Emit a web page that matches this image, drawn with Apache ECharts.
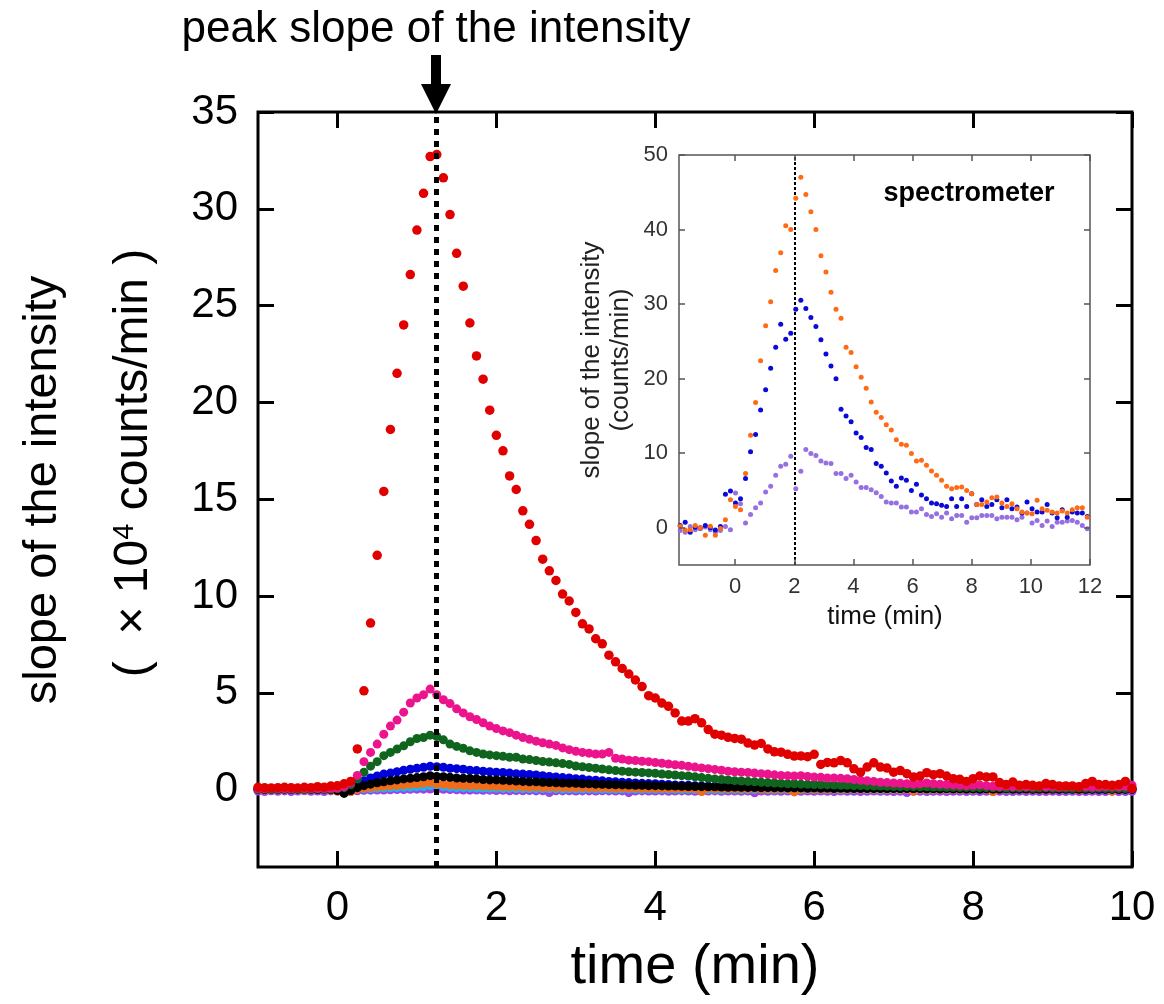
<!DOCTYPE html>
<html><head><meta charset="utf-8">
<script src="https://cdn.jsdelivr.net/npm/echarts@6/dist/echarts.min.js"></script>
<style>html,body{margin:0;padding:0;background:#fff}#c{width:1164px;height:1004px}</style>
</head><body><div id="c"></div>
<script>
// ---------- main chart data (sampled every 5 s from -1 min) ----------
const MAIN_T_START = -1, MAIN_T_STEP = 1 / 12;
const RED = [
0.12,0.1,0.08,0.1,0.12,0.1,0.08,0.12,0.1,0.15,
0.12,0.18,0.2,0.3,0.42,2.1,5.1,8.6,12.1,15.4,
18.6,21.5,24.0,26.6,28.9,30.8,32.7,32.8,31.6,29.7,
27.7,26.0,24.1,22.4,21.2,19.6,18.3,17.5,16.2,15.5,
14.4,13.7,12.86,11.9,11.3,10.8,10.1,9.74,9.15,8.56,
8.3,7.79,7.53,6.94,6.6,6.26,5.97,5.66,5.32,4.85,
4.73,4.47,4.3,3.96,3.54,3.54,3.66,3.45,3.1,2.86,
2.81,2.7,2.64,2.6,2.4,2.3,2.38,2.1,1.95,1.93,
1.82,1.73,1.74,1.7,1.82,1.3,1.4,1.38,1.5,1.38,
1.07,0.9,1.16,1.38,1.16,1.11,0.9,0.98,0.82,0.65,
0.7,0.87,0.77,0.82,0.7,0.56,0.53,0.42,0.56,0.7,
0.65,0.65,0.36,0.26,0.39,0.22,0.26,0.22,0.19,0.31,
0.26,0.19,0.19,0.19,0.14,0.31,0.42,0.26,0.26,0.22,
0.26,0.42,0.05];
const PINK = [
0.05,0.04,0.06,0.05,0.05,0.04,0.06,0.05,0.05,0.06,
0.05,0.06,0.08,0.15,0.35,0.73,1.44,1.92,2.35,2.86,
3.28,3.59,4.0,4.47,4.73,4.9,5.19,4.9,4.64,4.44,
4.17,3.96,3.76,3.62,3.45,3.28,3.15,3.03,2.94,2.81,
2.69,2.6,2.5,2.42,2.35,2.28,2.15,2.06,1.98,1.92,
1.88,1.84,1.84,1.92,1.62,1.58,1.52,1.5,1.46,1.44,
1.4,1.36,1.32,1.28,1.25,1.2,1.16,1.12,1.08,1.04,
1.0,0.95,0.92,0.9,0.88,0.85,0.82,0.8,0.76,0.73,
0.72,0.7,0.72,0.68,0.65,0.63,0.6,0.6,0.58,0.56,
0.52,0.48,0.45,0.42,0.38,0.36,0.34,0.32,0.3,0.28,
0.3,0.34,0.3,0.27,0.26,0.24,0.22,0.2,0.22,0.24,
0.2,0.17,0.16,0.18,0.15,0.16,0.14,0.15,0.17,0.14,
0.15,0.13,0.14,0.16,0.14,0.15,0.13,0.14,0.16,0.15,
0.14,0.17,0.22];
const GREEN = [
0.02,0.03,0.0,0.02,0.03,0.01,0.02,0.0,0.03,0.02,
0.01,0.03,0.05,0.1,0.25,0.55,0.9,1.21,1.44,1.75,
1.92,2.09,2.26,2.47,2.64,2.69,2.81,2.74,2.57,2.35,
2.23,2.13,2.0,1.92,1.84,1.79,1.75,1.72,1.67,1.67,
1.58,1.55,1.5,1.45,1.42,1.38,1.34,1.3,1.22,1.18,
1.14,1.1,1.06,1.02,0.98,0.95,0.92,0.9,0.88,0.86,
0.84,0.8,0.78,0.75,0.72,0.7,0.66,0.62,0.58,0.55,
0.52,0.5,0.46,0.44,0.42,0.4,0.38,0.36,0.34,0.32,
0.3,0.3,0.28,0.27,0.26,0.25,0.24,0.23,0.22,0.22,
0.2,0.2,0.19,0.18,0.18,0.17,0.16,0.16,0.15,0.15,
0.14,0.14,0.13,0.13,0.12,0.12,0.11,0.11,0.1,0.1,
0.1,0.09,0.1,0.08,0.09,0.08,0.1,0.07,0.08,0.09,
0.07,0.08,0.07,0.06,0.08,0.07,0.06,0.07,0.06,0.05,
0.06,0.05,0.06];
const BLUE = [
0.03,0.05,0.02,0.04,0.03,0.05,0.02,0.03,0.04,0.02,
0.03,0.02,0.01,0.0,0.1,0.25,0.45,0.6,0.7,0.8,
0.85,0.92,1.0,1.05,1.1,1.15,1.2,1.18,1.15,1.1,
1.08,1.05,1.0,0.98,0.95,0.92,0.9,0.88,0.85,0.82,
0.8,0.78,0.75,0.72,0.68,0.65,0.62,0.6,0.56,0.54,
0.5,0.48,0.45,0.42,0.4,0.38,0.36,0.34,0.32,0.31,
0.3,0.28,0.26,0.24,0.22,0.22,0.2,0.19,0.18,0.17,
0.16,0.15,0.14,0.14,0.13,0.12,0.12,0.11,0.1,0.1,
0.09,0.09,0.1,0.08,0.09,0.08,0.09,0.07,0.08,0.08,
0.07,0.07,0.06,0.07,0.06,0.06,0.07,0.05,0.06,0.05,
0.06,0.05,0.05,0.04,0.05,0.04,0.05,0.04,0.04,0.03,
0.04,0.04,0.03,0.04,0.03,0.03,0.04,0.02,0.03,0.03,
0.02,0.03,0.02,0.02,0.03,0.02,0.02,0.01,0.02,0.02,
0.01,0.02,0.01];
const BLACK = [
0.02,0.0,0.03,0.01,0.02,0.0,0.02,0.03,0.01,0.0,
0.02,0.0,-0.05,-0.2,-0.05,0.1,0.2,0.28,0.35,0.4,
0.45,0.5,0.55,0.58,0.62,0.66,0.72,0.68,0.66,0.63,
0.6,0.58,0.57,0.55,0.52,0.5,0.5,0.48,0.46,0.44,
0.42,0.4,0.4,0.38,0.36,0.35,0.34,0.33,0.32,0.3,
0.3,0.28,0.27,0.26,0.25,0.24,0.23,0.22,0.22,0.2,
0.2,0.19,0.18,0.18,0.17,0.16,0.16,0.15,0.14,0.14,
0.13,0.12,0.13,0.12,0.11,0.12,0.1,0.11,0.1,0.1,
0.09,0.1,0.09,0.08,0.09,0.08,0.08,0.07,0.08,0.07,
0.07,0.06,0.07,0.06,0.06,0.05,0.06,0.05,0.06,0.05,
0.05,0.04,0.05,0.04,0.05,0.04,0.04,0.03,0.04,0.03,
0.04,0.03,0.03,0.04,0.03,0.02,0.03,0.02,0.03,0.02,
0.03,0.02,0.02,0.03,0.02,0.01,0.02,0.02,0.01,0.02,
0.01,0.01,0.02];
const ORANGE = [
0.0,-0.02,0.01,0.0,-0.01,0.02,0.0,-0.02,0.01,0.0,
0.01,-0.03,-0.08,-0.15,-0.1,0.02,0.08,0.12,0.14,0.17,
0.2,0.22,0.24,0.27,0.3,0.33,0.36,0.3,0.28,0.25,
0.23,0.22,0.2,0.2,0.19,0.18,0.17,0.16,0.16,0.15,
0.14,0.13,0.14,0.12,0.13,0.12,0.11,0.12,0.1,0.11,
0.1,0.1,0.09,0.1,0.08,0.09,0.08,0.09,0.07,0.08,
0.07,0.07,0.06,0.07,0.06,0.06,0.05,-0.1,0.06,0.05,
0.05,0.04,0.05,0.04,0.04,0.05,0.03,0.04,0.03,0.04,
0.03,-0.12,0.03,0.03,0.02,0.03,0.02,0.03,0.02,0.02,
0.03,0.02,0.02,0.01,0.02,0.01,0.02,0.01,0.01,-0.08,
0.01,0.0,0.01,0.0,0.01,0.0,0.01,0.0,0.0,0.01,
0.0,-0.1,0.0,0.01,0.0,0.0,0.01,0.0,0.0,-0.01,
0.0,0.0,0.01,0.0,-0.01,0.0,0.0,0.01,0.0,-0.08,
0.0,0.0,0.02];
const CYAN = [
0.0,0.01,-0.01,0.0,0.01,0.0,-0.01,0.0,0.0,0.01,
0.0,-0.01,0.0,-0.02,0.0,0.02,0.04,0.05,0.07,0.08,
0.09,0.1,0.11,0.12,0.14,0.16,0.2,0.22,0.15,0.12,
0.1,0.1,0.09,0.08,0.08,0.07,0.07,0.06,0.06,0.05,
0.05,0.05,0.04,0.05,0.04,0.04,0.03,0.04,0.03,0.03,
0.04,0.03,0.02,0.03,0.02,0.03,0.02,0.02,0.01,0.02,
0.01,0.02,0.01,0.01,0.0,0.01,0.0,0.01,0.0,0.0,
-0.01,0.0,0.0,-0.01,0.0,0.0,0.01,0.0,-0.01,0.0,
0.0,0.0,-0.01,0.0,0.0,0.01,0.0,0.0,-0.01,0.0,
0.0,0.01,0.0,0.0,-0.01,0.0,0.0,0.0,0.01,0.0,
0.0,-0.01,0.0,0.0,0.0,0.01,0.0,0.0,-0.01,0.0,
0.0,0.0,0.01,0.0,0.0,-0.01,0.0,0.0,0.0,0.01,
0.0,0.0,-0.01,0.0,0.0,0.0,0.01,0.0,0.0,-0.01,
0.0,0.0,0.0];
const PURPLE = [
-0.08,-0.1,-0.06,-0.09,-0.07,-0.1,-0.08,-0.06,-0.09,-0.08,
-0.1,-0.07,-0.08,-0.12,-0.1,-0.06,-0.04,-0.03,-0.02,-0.02,
-0.01,0.0,0.0,0.01,0.02,0.02,0.03,0.02,0.01,0.0,
-0.01,-0.02,-0.03,-0.02,-0.04,-0.03,-0.05,-0.04,-0.06,-0.05,
-0.06,-0.05,-0.07,-0.06,-0.15,-0.06,-0.07,-0.06,-0.08,-0.07,
-0.07,-0.08,-0.06,-0.07,-0.08,-0.07,-0.16,-0.08,-0.07,-0.08,
-0.08,-0.07,-0.09,-0.08,-0.07,-0.08,-0.09,-0.08,-0.08,-0.07,
-0.09,-0.08,-0.08,-0.09,-0.08,-0.17,-0.08,-0.09,-0.08,-0.09,
-0.08,-0.09,-0.09,-0.08,-0.09,-0.08,-0.09,-0.1,-0.08,-0.09,
-0.09,-0.1,-0.09,-0.08,-0.09,-0.09,-0.1,-0.09,-0.15,-0.09,
-0.09,-0.1,-0.09,-0.09,-0.1,-0.09,-0.09,-0.1,-0.09,-0.1,
-0.09,-0.1,-0.09,-0.1,-0.1,-0.09,-0.1,-0.09,-0.1,-0.1,
-0.09,-0.1,-0.1,-0.09,-0.1,-0.1,-0.09,-0.1,-0.1,-0.09,
-0.1,-0.1,-0.09];

// ---------- inset (spectrometer) data, every ~10 s ----------
const INSET_T_START = -1.86, INSET_T_STEP = 0.17;
const SPEC_ORANGE = [
0.2,-0.3,-0.27,0.3,0.0,-1.0,0.2,-1.0,-0.1,1.07,
3.76,2.86,2.42,7.26,12.4,16.8,22.4,27.1,30.3,34.5,
36.9,40.5,40.0,44.2,47.0,44.7,42.4,40.0,36.5,34.3,
31.6,29.3,28.1,24.2,23.5,21.6,20.2,18.7,16.85,15.5,
14.8,13.8,13.1,11.8,11.2,11.06,9.95,8.95,9.05,8.37,
7.6,7.03,6.36,5.55,5.24,5.38,5.46,5.01,4.57,3.13,
3.13,3.44,4.03,4.11,3.31,2.86,3.23,2.55,2.1,1.96,
1.88,3.67,2.55,2.33,2.1,1.96,2.23,1.96,2.42,2.69,
2.69,1.42];
const SPEC_BLUE = [
0.3,0.75,-0.59,0.08,0.0,0.31,0.0,-0.3,0.17,4.48,
4.92,3.31,3.9,6.59,10.2,12.5,15.8,18.5,21.4,24.2,
27.3,25.3,26.1,29.3,30.5,29.4,28.2,27.0,25.2,23.3,
21.7,20.0,15.9,15.0,14.2,12.7,12.1,10.75,10.5,8.6,
8.24,7.34,6.26,5.55,6.67,6.36,5.0,5.82,4.4,3.9,
3.31,3.23,3.0,2.86,3.9,2.86,3.9,2.86,4.57,3.13,
3.76,2.86,3.13,3.76,2.69,3.76,2.55,2.77,1.96,3.44,
2.55,2.1,2.1,3.13,1.96,1.34,2.42,1.42,2.1,1.96,
1.96,1.52];
const SPEC_PURPLE = [
-0.36,-0.59,0.17,-0.27,-0.13,0.1,-0.27,-0.59,-0.36,0.17,
-0.27,4.65,3.23,0.62,1.79,2.69,3.31,4.78,5.55,7.03,
8.24,8.5,9.58,5.24,7.57,10.5,9.95,9.7,8.95,8.68,
8.6,7.26,7.26,6.59,7.03,6.13,5.38,5.38,5.1,4.7,
4.2,3.44,3.31,3.31,2.77,2.77,2.1,2.1,2.55,1.79,
1.52,1.88,1.42,1.96,1.21,1.65,1.65,0.75,1.34,1.34,
1.65,1.65,1.65,1.21,1.42,1.42,1.42,1.08,1.42,1.96,
0.62,0.98,0.31,0.89,0.17,0.75,0.75,0.89,0.98,0.75,
0.31,-0.13];

const PEAK_TIME = 1.24;
const INSET_PEAK_TIME = 2;
const MAIN_X_TICKS = [0, 2, 4, 6, 8, 10];
const MAIN_Y_TICKS = [0, 5, 10, 15, 20, 25, 30, 35];
const INSET_X_TICKS = [0, 2, 4, 6, 8, 10, 12];
const INSET_Y_TICKS = [0, 10, 20, 30, 40, 50];

// ---------- build ----------
const FONT = '"Liberation Sans", Arial, Helvetica, sans-serif';
function pairs(vals, t0, dt) { return vals.map((v, i) => [+(t0 + i * dt).toFixed(4), v]); }

function axis(grid, pos, min, max, ticks, showLabel, o) {
  return {
    type: 'value', gridIndex: grid, position: pos, min: min, max: max,
    axisLine: { show: false, onZero: false }, splitLine: { show: false },
    axisTick: { show: true, inside: true, length: o.tickLen, customValues: ticks,
      lineStyle: { color: o.tickColor, width: o.tickWidth } },
    axisLabel: { show: showLabel, customValues: ticks, fontSize: o.fontSize, color: o.labelColor,
      margin: o.margin, fontFamily: FONT }
  };
}
const MAIN_AX = { tickLen: 16, tickColor: '#000', tickWidth: 3, fontSize: 42, labelColor: '#000', margin: 20 };
const INSET_AX = { tickLen: 6, tickColor: '#555', tickWidth: 1.5, fontSize: 22, labelColor: '#333', margin: 11 };

function mainSeries(name, vals, color, size) {
  return { name, type: 'scatter', xAxisIndex: 0, yAxisIndex: 0, symbol: 'circle', symbolSize: size,
    itemStyle: { color, opacity: 1 }, data: pairs(vals, MAIN_T_START, MAIN_T_STEP), silent: true };
}
function insetSeries(name, vals, color) {
  return { name, type: 'scatter', xAxisIndex: 2, yAxisIndex: 2, symbol: 'circle', symbolSize: 5,
    itemStyle: { color, opacity: 1 }, data: pairs(vals, INSET_T_START, INSET_T_STEP), silent: true, z: 5 };
}

const chart = echarts.init(document.getElementById('c'), null, { renderer: 'canvas' });
const redSeries = mainSeries('red', RED, '#e00000', 9.5);
redSeries.markLine = { silent: true, symbol: ['none', 'none'], label: { show: false },
  lineStyle: { color: '#000', width: 5, type: [6, 6], opacity: 1 }, data: [{ xAxis: PEAK_TIME }] };
const insOrange = insetSeries('spec orange', SPEC_ORANGE, '#ff6a14');
insOrange.markLine = { silent: true, symbol: ['none', 'none'], label: { show: false },
  lineStyle: { color: '#000', width: 2, type: [3, 2], opacity: 1 }, data: [{ xAxis: INSET_PEAK_TIME }] };

chart.setOption({
  animation: false,
  backgroundColor: '#fff',
  grid: [
    { left: 258, top: 112, width: 874, height: 755, show: true, borderColor: '#000', borderWidth: 3, backgroundColor: 'transparent', z: 0 },
    { left: 679, top: 155, width: 411, height: 410, show: true, borderColor: '#555', borderWidth: 1.5, backgroundColor: '#fff', z: 4 }
  ],
  xAxis: [
    axis(0, 'bottom', -1, 10, MAIN_X_TICKS, true, MAIN_AX),
    axis(0, 'top', -1, 10, MAIN_X_TICKS, false, MAIN_AX),
    Object.assign(axis(1, 'bottom', -1.9, 12, INSET_X_TICKS, true, INSET_AX), { z: 6 }),
    Object.assign(axis(1, 'top', -1.9, 12, INSET_X_TICKS, false, INSET_AX), { z: 6 })
  ],
  yAxis: [
    axis(0, 'left', -4, 35, MAIN_Y_TICKS, true, MAIN_AX),
    axis(0, 'right', -4, 35, MAIN_Y_TICKS, false, MAIN_AX),
    Object.assign(axis(1, 'left', -5, 50, INSET_Y_TICKS, true, INSET_AX), { z: 6 }),
    Object.assign(axis(1, 'right', -5, 50, INSET_Y_TICKS, false, INSET_AX), { z: 6 })
  ],
  series: [
    mainSeries('purple', PURPLE, '#a040e8', 9),
    mainSeries('cyan', CYAN, '#22b4e8', 9),
    mainSeries('orange', ORANGE, '#f26b18', 9),
    mainSeries('blue', BLUE, '#0000d8', 9),
    mainSeries('black', BLACK, '#000000', 9),
    mainSeries('green', GREEN, '#0f641e', 9),
    mainSeries('pink', PINK, '#eb148c', 9),
    redSeries,
    insetSeries('spec purple', SPEC_PURPLE, '#9670e0'),
    insetSeries('spec blue', SPEC_BLUE, '#0a0ad8'),
    insOrange
  ]
});

const px = chart.convertToPixel({ xAxisIndex: 0 }, PEAK_TIME);
const gridTop = 112;
function txt(x, y, text, size, extra) {
  return { type: 'text', x, y, z: 100, silent: true,
    style: Object.assign({ text, fontSize: size, fontFamily: FONT, fill: '#000',
      align: 'center', verticalAlign: 'middle', textAlign: 'center', textVerticalAlign: 'middle' }, extra || {}) };
}
const g = [
  txt(436, 30, 'peak slope of the intensity', 44),
  Object.assign(txt(43, 490, 'slope of the intensity', 47), { rotation: Math.PI / 2 }),
  Object.assign(txt(134, 463, '(  × 10{sup|4} counts/min )', 48,
    { rich: { sup: { fontSize: 29, verticalAlign: 'top', fontFamily: FONT, fill: '#000' } } }), { rotation: Math.PI / 2 }),
  txt(695, 968, 'time (min)', 56),
  Object.assign(txt(592, 360, 'slope of the intensity', 26, { fill: '#222' }), { rotation: Math.PI / 2 }),
  Object.assign(txt(621, 360, '(counts/min)', 26, { fill: '#222' }), { rotation: Math.PI / 2 }),
  txt(885, 617, 'time (min)', 26, { fill: '#111' }),
  txt(969, 194, 'spectrometer', 27, { fontWeight: 'bold' }),
  { type: 'rect', z: 100, silent: true, shape: { x: px - 5, y: 55, width: 10, height: 32 }, style: { fill: '#000' } },
  { type: 'polygon', z: 100, silent: true, shape: { points: [[px - 15, 84], [px + 15, 84], [px, gridTop + 2]] }, style: { fill: '#000' } }
];
chart.setOption({ graphic: g });
</script>
</body></html>
